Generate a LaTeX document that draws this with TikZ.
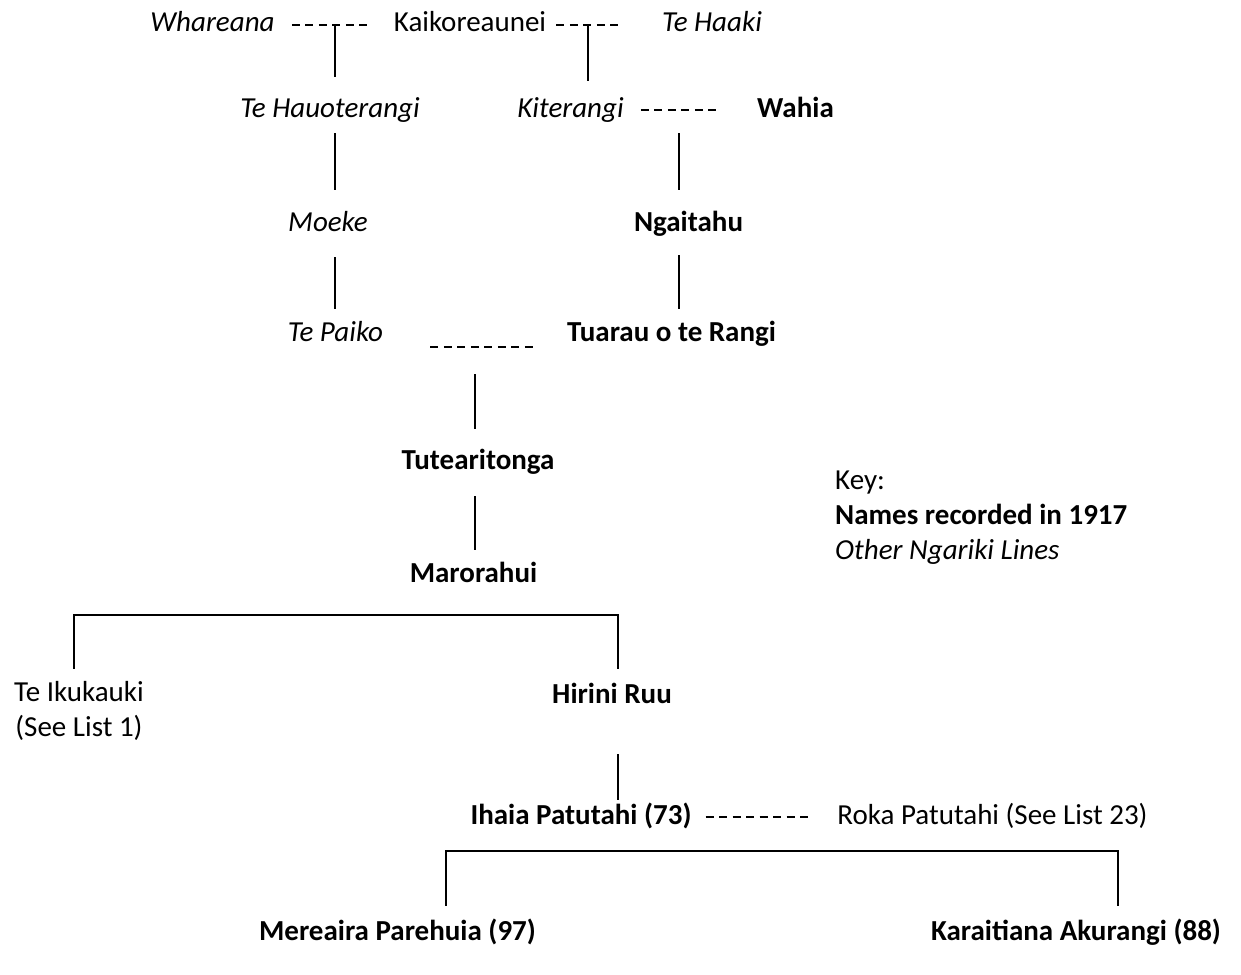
\documentclass[tikz,border=0pt]{standalone}
\usepackage{fontspec}
\setmainfont{Carlito}
\begin{document}
\begin{tikzpicture}[x=1pt,y=-1pt,
  person/.style={inner sep=0pt, text height=20pt, text depth=6pt, anchor=base,
    font=\fontsize{29}{35}\selectfont},
  otherline/.style={person, font=\fontsize{29}{35}\selectfont\itshape},
  recorded/.style={person, font=\fontsize{29}{35}\selectfont\bfseries},
  keytext/.style={person, anchor=base west},
  descent/.style={line width=1.4pt},
  couple/.style={line width=1.4pt, dash pattern=on 8pt off 5.5pt},
]
\useasboundingbox (0,0) rectangle (1241,974);

% generation 1
\node[otherline] (wha) at (212.5,32) {Whareana};
\node[person] (kai) at (470,32) {Kaikoreaunei};
\node[otherline] (thk) at (712,32) {Te Haaki};
% generation 2
\node[otherline] (thau) at (330,117) {Te Hauoterangi};
\node[otherline] (kit) at (570.5,117) {Kiterangi};
\node[recorded] (wah) at (795.5,117) {Wahia};
% generation 3
\node[otherline] (moe) at (328,231) {Moeke};
\node[recorded] (ngt) at (688.5,231) {Ngaitahu};
% generation 4
\node[otherline] (pai) at (335.5,341) {Te Paiko};
\node[recorded] (tua) at (671.5,341) {Tuarau o te Rangi};
% later generations
\node[recorded] (tut) at (478,469) {Tutearitonga};
\node[recorded] (mar) at (473.5,582) {Marorahui};
\node[person] (iku) at (79,701) {Te Ikukauki};
\node[person] (see) at (79,736) {(See List 1)};
\node[recorded] (hir) at (612,703) {Hirini Ruu};
\node[recorded] (iha) at (581,824) {Ihaia Patutahi (73)};
\node[person] (rok) at (992.5,824) {Roka Patutahi (See List 23)};
\node[recorded] (mer) at (397.5,940) {Mereaira Parehuia (97)};
\node[recorded] (kar) at (1076,940) {Karaitiana Akurangi (88)};

% key
\node[keytext] (key) at (835,489) {Key:};
\node[keytext, font=\fontsize{29}{35}\selectfont\bfseries] (keyrec) at (835,524) {Names recorded in 1917};
\node[keytext, font=\fontsize{29}{35}\selectfont\itshape] (keyoth) at (835,559) {Other Ngariki Lines};

% marriages and descent lines
\coordinate (j1) at (335,25);
\coordinate (j2) at (588,25);
\coordinate (j3) at (679,110);
\coordinate (j4) at (475,347);

\draw[couple, shorten <=17pt, shorten >=26pt] (wha.east) -- (kai.west);
\draw[descent, shorten >=20pt] (j1) -- (j1 |- thau.north);
\draw[descent, shorten <=10pt, shorten >=21pt] (j1 |- thau.south) -- (j1 |- moe.north);
\draw[descent, shorten <=20pt, shorten >=12pt] (j1 |- moe.south) -- (j1 |- pai.north);

\draw[couple, shorten <=10pt, shorten >=42pt] (kai.east) -- (thk.west);
\draw[descent, shorten >=16pt] (j2) -- (j2 |- kit.north);

\draw[couple, shorten <=17pt, shorten >=38pt] (kit.east) -- (wah.west);
\draw[descent, shorten <=23pt, shorten >=21pt] (j3) -- (j3 |- ngt.north);
\draw[descent, shorten <=18pt, shorten >=12pt] (j3 |- ngt.south) -- (j3 |- tua.north);

\draw[couple, shorten <=47pt, shorten >=32pt] ([yshift=-13pt]pai.east) -- ([yshift=-13pt]tua.west);
\draw[descent, shorten <=27pt, shorten >=20pt] (j4) -- (j4 |- tut.north);
\draw[descent, shorten <=21pt, shorten >=12pt] (j4 |- tut.south) -- (j4 |- mar.north);

% children of Marorahui
\coordinate (b1) at (300,615);
\draw[descent] ([xshift=-5pt,yshift=12pt]iku.north) |- (b1) -| ([xshift=6pt,yshift=14pt]hir.north);
\draw[descent, shorten <=45pt, shorten >=4pt] ([xshift=6pt]hir.south) -- ([xshift=37pt]iha.north);

\draw[couple, shorten <=14pt, shorten >=24pt] (iha.east) -- (rok.west);

% children of Ihaia Patutahi
\coordinate (b2) at (700,851);
\draw[descent] ([xshift=48.5pt,yshift=14pt]mer.north) |- (b2) -| ([xshift=42pt,yshift=14pt]kar.north);
\end{tikzpicture}
\end{document}
